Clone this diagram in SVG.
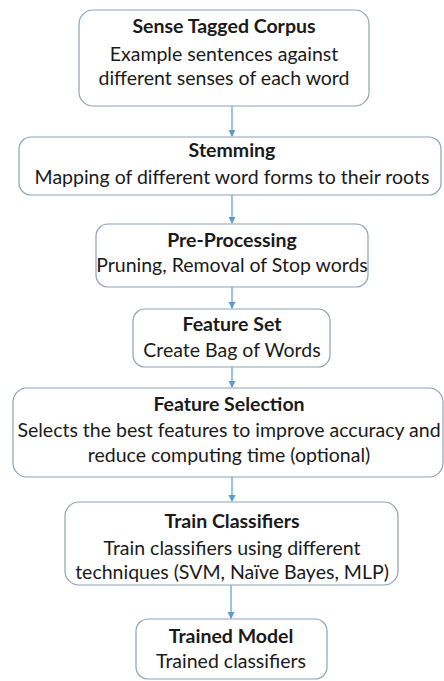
<svg xmlns="http://www.w3.org/2000/svg" width="444" height="681" viewBox="0 0 444 681">
<style>
.box{fill:#fff;stroke:#8ea2b6;stroke-width:1.2}
text{font-family:Lato,"Open Sans",sans-serif;font-size:19.5px;fill:#1a1a1a;text-anchor:middle}
.t{font-weight:bold}
.c{stroke:#5b9bd5;stroke-width:1.2;fill:none}
</style>
<defs>
<marker id="ah" markerWidth="8" markerHeight="8" refX="6" refY="3.5" orient="auto" markerUnits="userSpaceOnUse">
<path d="M0,0 L7,3.5 L0,7 z" fill="#5b9bd5"/>
</marker>
</defs>
<rect width="444" height="681" fill="#fff"/>
<g id="connectors">
<line class="c" x1="232" y1="106" x2="232" y2="136" marker-end="url(#ah)"/>
<line class="c" x1="232" y1="195" x2="232" y2="223" marker-end="url(#ah)"/>
<line class="c" x1="232" y1="287" x2="232" y2="308" marker-end="url(#ah)"/>
<line class="c" x1="232" y1="367" x2="232" y2="387" marker-end="url(#ah)"/>
<line class="c" x1="232" y1="477" x2="232" y2="501" marker-end="url(#ah)"/>
<line class="c" x1="231" y1="585" x2="231" y2="618" marker-end="url(#ah)"/>
</g>
<g id="sense-tagged-corpus">
<rect class="box" x="79" y="10" width="290" height="96" rx="14"/>
<text class="t" x="224" y="33">Sense Tagged Corpus</text>
<text x="224" y="61">Example sentences against</text>
<text x="224" y="85">different senses of each word</text>
</g>
<g id="stemming">
<rect class="box" x="19" y="137" width="422" height="58" rx="12"/>
<text class="t" x="232" y="157">Stemming</text>
<text x="232" y="184">Mapping of different word forms to their roots</text>
</g>
<g id="pre-processing">
<rect class="box" x="96" y="224" width="272" height="63" rx="12"/>
<text class="t" x="232" y="247">Pre-Processing</text>
<text x="232" y="272">Pruning, Removal of Stop words</text>
</g>
<g id="feature-set">
<rect class="box" x="133" y="309" width="197" height="58" rx="12"/>
<text class="t" x="232" y="331">Feature Set</text>
<text x="232" y="357">Create Bag of Words</text>
</g>
<g id="feature-selection">
<rect class="box" x="13" y="388" width="430" height="89" rx="14"/>
<text class="t" x="229" y="411">Feature Selection</text>
<text x="229" y="437">Selects the best features to improve accuracy and</text>
<text x="229" y="462">reduce computing time (optional)</text>
</g>
<g id="train-classifiers">
<rect class="box" x="65" y="502" width="333" height="83" rx="14"/>
<text class="t" x="232" y="528">Train Classifiers</text>
<text x="232" y="555">Train classifiers using different</text>
<text x="232" y="579">techniques (SVM, Naïve Bayes, MLP)</text>
</g>
<g id="trained-model">
<rect class="box" x="136" y="619" width="191" height="60" rx="12"/>
<text class="t" x="231" y="643">Trained Model</text>
<text x="231" y="668">Trained classifiers</text>
</g>
</svg>
